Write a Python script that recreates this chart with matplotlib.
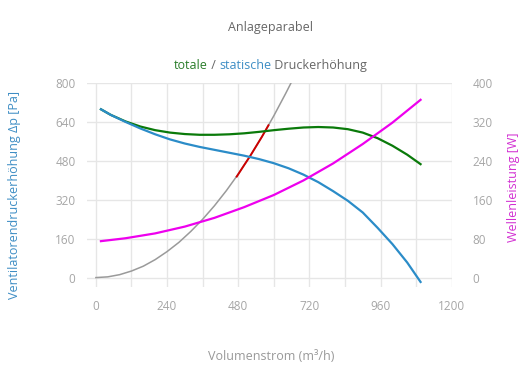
import matplotlib
matplotlib.use("Agg")
import matplotlib.pyplot as plt
from matplotlib.ticker import MultipleLocator

plt.rcParams['font.family'] = ['Open Sans', 'DejaVu Sans']

# ---- data ----
static_x = [17, 50, 100, 150, 200, 250, 300, 350, 400, 450, 500, 550, 600, 650, 700, 750, 800, 850, 900, 950, 1000, 1050, 1095]
static_y = [693, 670, 641, 614, 590, 569, 552, 538, 526, 514, 502, 488, 471, 450, 424, 393, 356, 316, 268, 205, 138, 62, -18]

total_x = [17, 50, 100, 150, 200, 250, 300, 350, 400, 450, 500, 550, 600, 650, 700, 750, 800, 850, 900, 950, 1000, 1050, 1095]
total_y = [693, 670, 643, 622, 607, 597, 591, 588, 588, 590, 594, 600, 607, 613, 618, 620, 618, 611, 597, 574, 543, 506, 467]

power_x = [17, 100, 200, 300, 400, 500, 600, 700, 800, 900, 1000, 1095]
power_w = [75, 81, 91, 105, 123, 145, 170, 200, 235, 275, 319, 366]

system_x = [0, 40, 80, 120, 160, 200, 240, 280, 320, 360, 400, 440, 480, 520, 560, 600, 640, 665]
system_y = [0, 3, 12, 27, 47, 74, 107, 145, 190, 240, 296, 358, 426, 500, 580, 666, 758, 818]

oper_x = [475, 500, 520, 540, 560, 582]
oper_y = [416, 463, 500, 540, 580, 627]

x_ticks = [0, 240, 480, 720, 960, 1200]
yl_ticks = [0, 160, 320, 480, 640, 800]
yr_ticks = [0, 80, 160, 240, 320, 400]

title = "Anlageparabel"
sub_parts = [("totale", "#2a7d2a"), (" / ", "#666666"), ("statische", "#3d8dc4"), (" Druckerhöhung", "#666666")]
xlabel = "Volumenstrom (m³/h)"
ylabel_l = "Ventilatorendruckerhöhung Δp [Pa]"
ylabel_r = "Wellenleistung [W]"

W, H = 530, 390
fig = plt.figure(figsize=(W / 100, H / 100), dpi=100)
ax = fig.add_axes([86.7 / W, (H - 287.3) / H, 365 / W, 204 / H])
ax2 = ax.twinx()

tick_col = "#a6a6a6"
grid_col = "#e6e6e6"

ax.plot(system_x, system_y, color="#9a9a9a", lw=1.1, zorder=3)
ax.plot(oper_x, oper_y, color="#cc0000", lw=1.4, zorder=4)
ax.plot(total_x, total_y, color="#0a7a0a", lw=1.6, zorder=5)
ax.plot(static_x, static_y, color="#2b8cc8", lw=1.6, zorder=6)
ax2.plot(power_x, power_w, color="#ee00ee", lw=1.6)

ax.set_xlim(-31, 1200)
ax.set_ylim(-40, 800)
ax2.set_ylim(-20, 400)

ax.set_xticks(x_ticks)
ax.xaxis.set_minor_locator(MultipleLocator(120))
ax.set_yticks(yl_ticks)
ax2.set_yticks(yr_ticks)

ax.grid(True, which="both", axis="x", color=grid_col, lw=1)
ax.grid(True, which="major", axis="y", color=grid_col, lw=1)
ax.set_axisbelow(True)

for a in (ax, ax2):
    for s in a.spines.values():
        s.set_visible(False)
    a.tick_params(axis="both", which="both", length=0, colors=tick_col, labelsize=8.5)
ax.tick_params(axis="y", pad=8)
ax2.tick_params(axis="y", pad=15)
ax.tick_params(axis="x", pad=9)

fig.text(15 / W, 1 - 195 / H, ylabel_l, rotation=90, ha="center", va="center",
         color="#3d8dc4", fontsize=9)
fig.text(513 / W, 1 - 187 / H, ylabel_r, rotation=90, ha="center", va="center",
         color="#d22fd2", fontsize=9)
fig.text(270.7 / W, 1 - 356.7 / H, xlabel, ha="center", va="center",
         color="#999999", fontsize=9)
fig.text(270.7 / W, 1 - 27.5 / H, title, ha="center", va="center",
         color="#666666", fontsize=9)

# subtitle with coloured words, centred as a whole
fig.canvas.draw()
r = fig.canvas.get_renderer()
texts = []
for s, c in sub_parts:
    t = fig.text(0, 1 - 69 / H, s, ha="left", va="baseline", color=c, fontsize=9)
    texts.append(t)
widths = [t.get_window_extent(r).width for t in texts]
total = sum(widths)
x0 = 270.7 - total / 2
for t, w in zip(texts, widths):
    t.set_x(x0 / W)
    x0 += w

fig.savefig("out.png", dpi=100)
